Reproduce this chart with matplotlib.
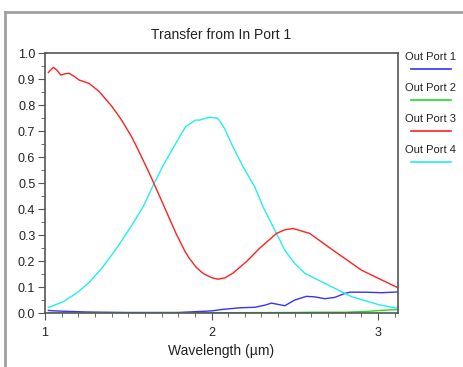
import matplotlib.pyplot as plt
from matplotlib.lines import Line2D
from matplotlib.ticker import MultipleLocator

plt.rcParams['font.family'] = ['Liberation Sans', 'DejaVu Sans']

# Out Port 1 (blue)
wl_p1 = [1.02, 1.06, 1.15, 1.25, 1.35, 1.5, 1.65, 1.8, 1.9, 2.0, 2.07, 2.17, 2.26,
         2.32, 2.36, 2.40, 2.44, 2.50, 2.57, 2.62, 2.68, 2.74, 2.80, 2.83, 2.93, 3.02, 3.12]
t_p1 = [0.010, 0.008, 0.006, 0.004, 0.003, 0.002, 0.002, 0.002, 0.005, 0.008, 0.014, 0.020, 0.022,
        0.030, 0.038, 0.033, 0.028, 0.050, 0.064, 0.062, 0.055, 0.060, 0.075, 0.080, 0.080, 0.078, 0.081]

# Out Port 2 (green)
wl_p2 = [1.02, 1.5, 2.0, 2.5, 2.6, 2.8, 2.93, 3.02, 3.12]
t_p2 = [0.000, 0.000, 0.001, 0.002, 0.003, 0.003, 0.006, 0.010, 0.013]

# Out Port 3 (red)
wl_p3 = [1.02, 1.035, 1.05, 1.07, 1.095, 1.12, 1.145, 1.175, 1.205, 1.265, 1.325, 1.40, 1.46,
         1.52, 1.56, 1.627, 1.707, 1.787, 1.84, 1.867, 1.908, 1.948, 2.00, 2.038, 2.08, 2.128,
         2.209, 2.289, 2.39, 2.44, 2.49, 2.59, 2.70, 2.80, 2.90, 3.00, 3.12]
t_p3 = [0.925, 0.935, 0.945, 0.935, 0.915, 0.92, 0.922, 0.91, 0.896, 0.883, 0.852, 0.796, 0.742,
        0.678, 0.627, 0.537, 0.422, 0.306, 0.238, 0.210, 0.176, 0.153, 0.136, 0.130, 0.135, 0.153,
        0.197, 0.249, 0.306, 0.320, 0.325, 0.306, 0.255, 0.210, 0.165, 0.134, 0.097]

# Out Port 4 (cyan)
wl_p4 = [1.02, 1.032, 1.108, 1.189, 1.269, 1.349, 1.43, 1.51, 1.59, 1.65, 1.711, 1.785, 1.845,
         1.905, 1.928, 1.988, 2.038, 2.078, 2.128, 2.189, 2.259, 2.309, 2.39, 2.44, 2.50, 2.56,
         2.70, 2.84, 3.01, 3.12]
t_p4 = [0.022, 0.024, 0.043, 0.076, 0.120, 0.178, 0.249, 0.326, 0.409, 0.492, 0.569, 0.652, 0.717,
        0.742, 0.742, 0.753, 0.749, 0.710, 0.640, 0.563, 0.486, 0.409, 0.306, 0.242, 0.190, 0.153,
        0.108, 0.063, 0.031, 0.018]

series = [
    ('Out Port 1', wl_p1, t_p1, '#3333ff'),
    ('Out Port 2', wl_p2, t_p2, '#22dd22'),
    ('Out Port 3', wl_p3, t_p3, '#ff2020'),
    ('Out Port 4', wl_p4, t_p4, '#22eeee'),
]

fig = plt.figure(figsize=(4.64, 3.67), dpi=100)
ax = fig.add_axes([45 / 464, 1 - 313 / 367, 353 / 464, 260 / 367])

# draw order: blue first so green sits on top at zero
for name, x, y, c in [series[0], series[3], series[2], series[1]]:
    ax.plot(x, y, color=c, lw=1.0, label=name)

ax.set_xlim(1.0, 3.12)
ax.set_ylim(0, 1.0)
ax.xaxis.set_major_locator(MultipleLocator(1))
ax.xaxis.set_minor_locator(MultipleLocator(0.1))
ax.yaxis.set_major_locator(MultipleLocator(0.1))
ax.yaxis.set_minor_locator(MultipleLocator(0.05))
ax.yaxis.set_major_formatter(plt.FormatStrFormatter('%.1f'))

edge = '#555555'
for s in ax.spines.values():
    s.set_color(edge)
    s.set_linewidth(1.2)
ax.tick_params(which='both', direction='out', color=edge, top=False, right=False)
ax.tick_params(which='major', length=5, labelsize=9, labelcolor='#222222')
ax.tick_params(which='minor', length=3)
ax.tick_params(axis='y', which='major', pad=2)
ax.tick_params(axis='x', which='major', pad=5)

ax.set_title('Transfer from In Port 1', fontsize=10, color='#222222', pad=10)
ax.set_xlabel('Wavelength (\u00b5m)', fontsize=10, color='#222222', labelpad=4)

# legend on the right: label above a short line
for i, (name, x, y, c) in enumerate(series):
    ty = 1 - (57 + 31 * i) / 367
    fig.text(405 / 464, ty, name, fontsize=8, color='#222222', va='center', ha='left')
    ly = 1 - (69 + 31 * i) / 367
    fig.add_artist(Line2D([411 / 464, 451 / 464], [ly, ly], color=c, lw=1.2,
                          transform=fig.transFigure))

# window frame
fig.add_artist(Line2D([5 / 464, 5 / 464], [0, 1 - 12 / 367], color='#a0a0a0', lw=2,
                      transform=fig.transFigure))
fig.add_artist(Line2D([5 / 464, 1], [1 - 12 / 367, 1 - 12 / 367], color='#a0a0a0', lw=2,
                      transform=fig.transFigure))

fig.savefig('out.png', dpi=100)
